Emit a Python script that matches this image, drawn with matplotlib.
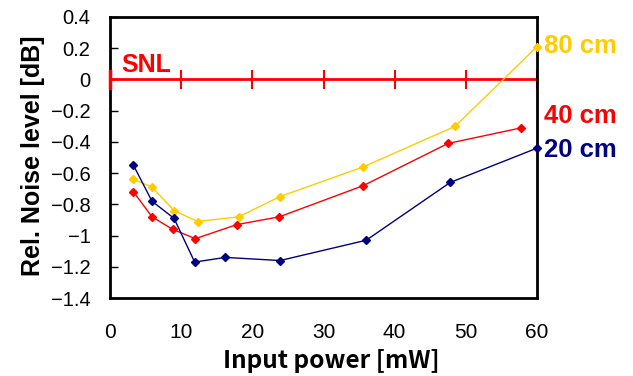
import matplotlib
matplotlib.use("Agg")
import matplotlib.pyplot as plt

x_80 = [3.3, 5.9, 9.0, 12.3, 18.1, 23.9, 35.6, 48.5, 60.0]
y_80 = [-0.64, -0.69, -0.84, -0.91, -0.88, -0.75, -0.56, -0.30, 0.21]
x_40 = [3.3, 5.9, 8.8, 12.0, 17.8, 23.8, 35.6, 47.5, 57.8]
y_40 = [-0.72, -0.88, -0.96, -1.02, -0.93, -0.88, -0.68, -0.41, -0.31]
x_20 = [3.3, 5.9, 9.0, 11.9, 16.2, 23.9, 36.0, 47.8, 60.0]
y_20 = [-0.55, -0.78, -0.89, -1.17, -1.14, -1.16, -1.03, -0.66, -0.44]
snl_ticks = [10, 20, 30, 40, 50, 60]
xticks = [0, 10, 20, 30, 40, 50, 60]
yticks = [0.4, 0.2, 0, -0.2, -0.4, -0.6, -0.8, -1, -1.2, -1.4]
series_labels = ["80 cm", "40 cm", "20 cm"]
label_y = [0.215, -0.234, -0.452]

c80 = "#FFCC00"
c40 = "#FF0000"
c20 = "#000080"

fig = plt.figure(figsize=(6.33, 3.76), dpi=100)
ax = fig.add_axes([110/633, 1-298/376, 427/633, 281/376])
ax.set_xlim(0, 60)
ax.set_ylim(-1.4, 0.4)

# SNL line
ax.plot([0, 60], [0, 0], color=c40, lw=2, clip_on=False, zorder=2)
for t in snl_ticks:
    ax.plot([t, t], [-0.055, 0.055], color=c40, lw=1.5, clip_on=False, zorder=2)
ax.plot([0, 0], [-0.055, 0.055], color=c40, lw=2.5, clip_on=False, zorder=5)
ax.text(1.6, 0.045, "SNL", color=c40, fontsize=18, fontweight="bold",
        family="Liberation Sans", va="baseline", ha="left")

ax.plot(x_80, y_80, color=c80, lw=1, marker="D", ms=4.2, clip_on=False, zorder=3)
ax.plot(x_40, y_40, color=c40, lw=1, marker="D", ms=4.2, clip_on=False, zorder=3)
ax.plot(x_20, y_20, color=c20, lw=1, marker="D", ms=4.2, clip_on=False, zorder=3)

for lab, yv, col in zip(series_labels, label_y, [c80, c40, c20]):
    ax.text(61.0, yv, lab, color=col, fontsize=18.5, fontweight="bold",
            family="Liberation Sans", va="center", ha="left", clip_on=False)

ax.set_xticks(xticks)
ax.set_xticklabels([str(v) for v in xticks], family="Liberation Sans", fontsize=15)
ax.set_yticks(yticks)
ax.set_yticklabels([("\u2212" + f"{abs(v):g}") if v < 0 else f"{v:g}" for v in yticks],
                   family="Liberation Sans", fontsize=14.5)
ax.tick_params(axis="x", length=0, pad=18)
ax.tick_params(axis="y", direction="in", length=6, width=1, pad=14)

for s in ax.spines.values():
    s.set_linewidth(2)
    s.set_color("black")

ax.set_xlabel("Input power [mW]", family="Noto Sans CJK JP", fontweight="bold", fontsize=17.5, va="center")
ax.xaxis.set_label_coords((331 - 110) / 427, (298 - 361) / 281)
ax.set_ylabel("Rel. Noise level [dB]", family="Liberation Sans", fontweight="bold", fontsize=18, va="center")
ax.yaxis.set_label_coords((33 - 110) / 427, (298 - 156) / 281)

fig.savefig("out.png", dpi=100)
